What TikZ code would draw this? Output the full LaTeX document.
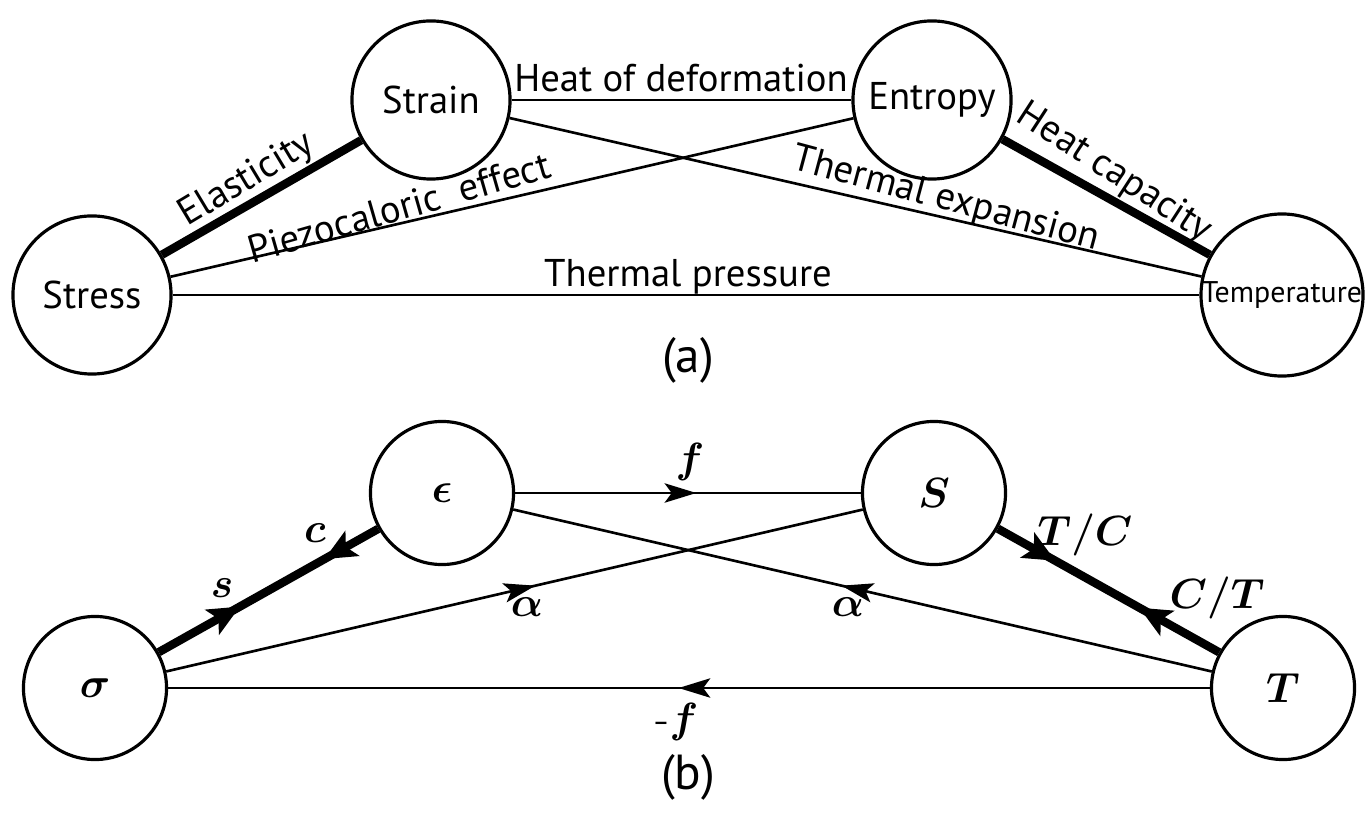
\documentclass[tikz,border=0pt]{standalone}
\usepackage{fontspec}
\setsansfont{PT Sans}
\usetikzlibrary{arrows.meta,decorations.markings}

\begin{document}
\begin{tikzpicture}[x=0.01cm,y=-0.01cm,
  st/.style={circle,draw,line width=0.9pt,inner sep=0pt},
  bg/.style={st,minimum size=1.58cm,font=\sffamily\fontsize{11}{13}\selectfont},
  sm/.style={st,minimum size=1.43cm,font=\boldmath\fontsize{12}{14}\selectfont},
  ln/.style={line width=0.75pt},
  hv/.style={line width=2.4pt},
  lbl/.style={font=\sffamily\fontsize{11}{13}\selectfont,inner sep=1pt},
  sym/.style={font=\boldmath\fontsize{12}{14}\selectfont,inner sep=1pt},
  fw/.style={postaction={decorate,decoration={markings,
    mark=at position #1 with {\arrow{Stealth[length=9pt,width=5.5pt,inset=2pt]}}}}},
  fwh/.style={postaction={decorate,decoration={markings,
    mark=at position #1 with {\arrow{Stealth[length=9pt,width=8pt,inset=2pt]}}}}},
  bwh/.style={postaction={decorate,decoration={markings,
    mark=at position #1 with {\arrowreversed{Stealth[length=9pt,width=8pt,inset=2pt]}}}}}]
  \useasboundingbox (0,0) rectangle (1371,819);

  \node[bg] (stress) at (92,295) {Stress};
  \node[bg] (strain) at (431,100) {Strain};
  \node[bg] (entropy) at (932,100) {Entropy};
  \node[bg,font=\sffamily\fontsize{8.5}{10}\selectfont] (temp) at (1282,295) {Temperature};

  \draw[hv] (stress) -- (strain);
  \draw[ln] (strain) -- (entropy);
  \draw[ln] (stress) -- (entropy);
  \draw[ln] (strain) -- (temp);
  \draw[hv] (entropy) -- (temp);
  \draw[ln] (stress) -- (temp);

  \node[lbl,rotate=31] (lela) at (247,180) {Elasticity};
  \node[lbl,rotate=16] (lpz) at (399,207) {Piezocaloric\ \ effect};
  \node[lbl,anchor=base] (lhd) at (681,92) {Heat of deformation};
  \node[lbl,rotate=-15] (lte) at (946,200) {Thermal expansion};
  \node[lbl,rotate=-33] (lhc) at (1114,173) {Heat capacity};
  \node[lbl,anchor=base] (ltp) at (688,287) {Thermal pressure};
  \node[lbl,font=\sffamily\fontsize{14}{16}\selectfont] (la) at (688,360) {(a)};

  \node[sm] (sig) at (95,688) {$\sigma$};
  \node[sm] (eps) at (442,493) {$\epsilon$};
  \node[sm] (ent) at (934,493) {$S$};
  \node[sm] (tem) at (1283,688) {$T$};

  \draw[hv,fwh=0.37,bwh=0.755] (sig) -- (eps);
  \draw[ln,fw=0.524] (eps) -- (ent);
  \draw[ln,fw=0.53] (sig) -- (ent);
  \draw[ln,fw=0.53] (tem) -- (eps);
  \draw[hv,fwh=0.26,bwh=0.64] (ent) -- (tem);
  \draw[ln,fw=0.51] (tem) -- (sig);

  \node[sym] (ls) at (222,588) {$s$};
  \node[sym] (lc) at (315,533) {$c$};
  \node[sym] (lf) at (690,462) {$f$};
  \node[sym] (lal) at (527,607) {$\alpha$};
  \node[sym] (lar) at (848,607) {$\alpha$};
  \node[sym] (ltc) at (1085,535) {$T/C$};
  \node[sym] (lct) at (1217,598) {$C/T$};
  \node[sym] (lmf) at (677,722) {-$f$};
  \node[lbl,font=\sffamily\fontsize{14}{16}\selectfont] (lb) at (688,777) {(b)};
\end{tikzpicture}
\end{document}
